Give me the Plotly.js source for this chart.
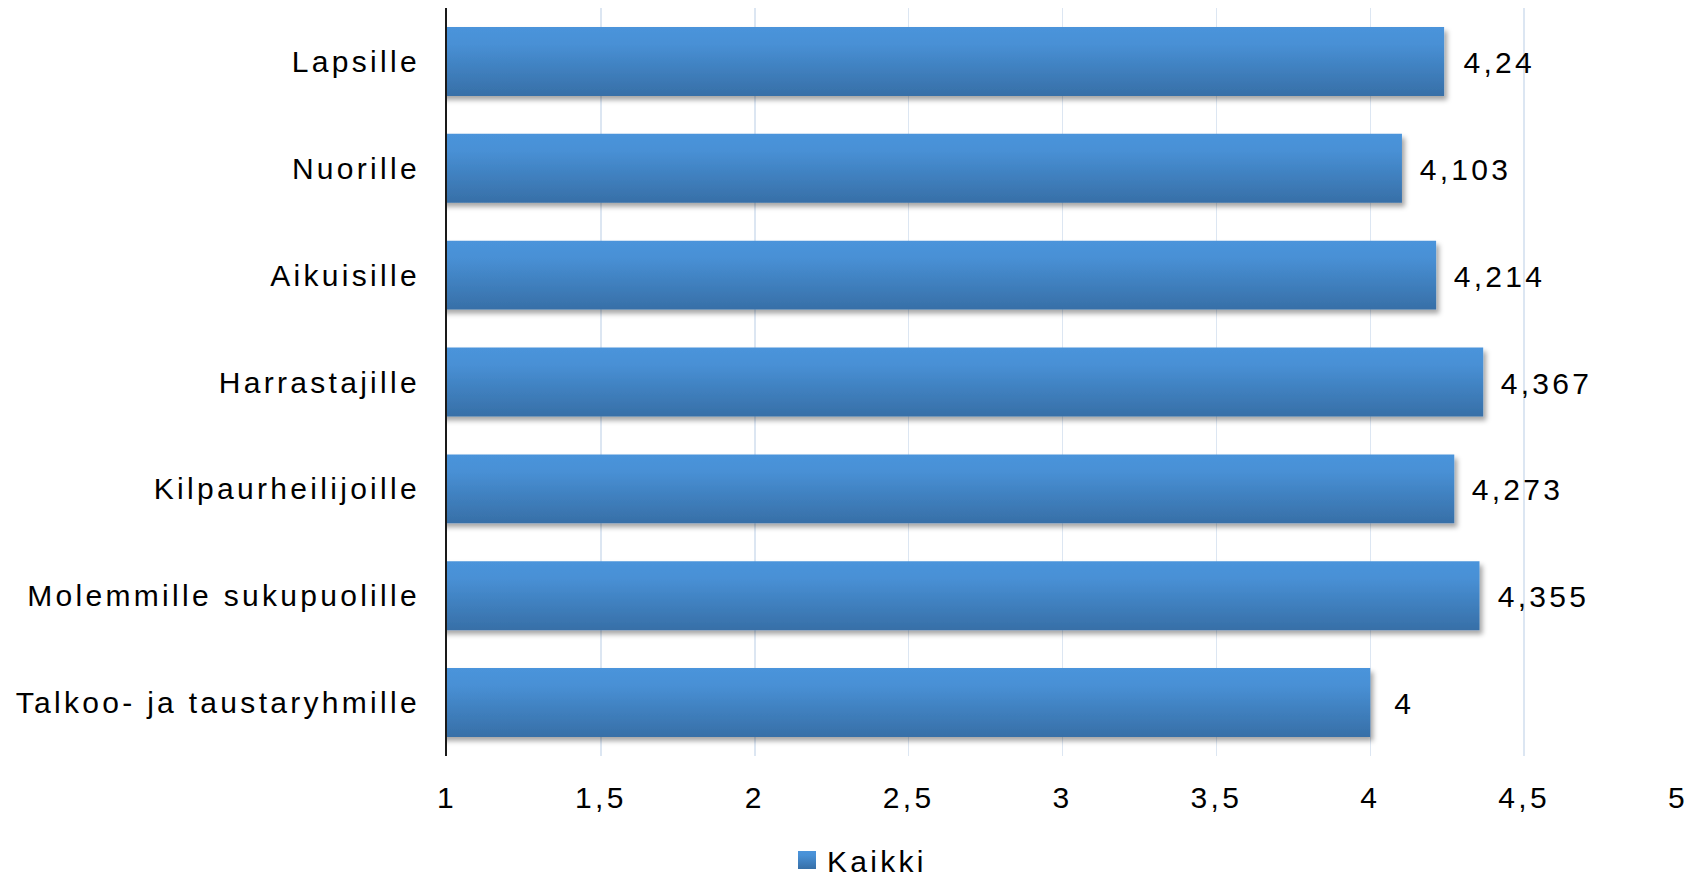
<!DOCTYPE html>
<html>
<head>
<meta charset="utf-8">
<script src="https://cdn.plot.ly/plotly-3.0.1.min.js"></script>
<style>
  html, body { margin: 0; padding: 0; background: #fff; }
  #chart { width: 1705px; height: 880px; }
  #chart text { letter-spacing: 3.3px; }
</style>
</head>
<body>
<svg width="0" height="0" style="position:absolute">
  <defs>
    <linearGradient id="barGrad" x1="0" y1="0" x2="0" y2="1">
      <stop offset="0%" stop-color="#4b94db"/>
      <stop offset="25%" stop-color="#4890d5"/>
      <stop offset="100%" stop-color="#376fa7"/>
    </linearGradient>
    <filter id="barShadow" x="-5%" y="-20%" width="115%" height="160%">
      <feDropShadow dx="3" dy="4" stdDeviation="2.5" flood-color="#000" flood-opacity="0.35"/>
    </filter>
  </defs>
</svg>
<div id="chart"></div>
<script>
const categories = ["Lapsille", "Nuorille", "Aikuisille", "Harrastajille", "Kilpaurheilijoille", "Molemmille sukupuolille", "Talkoo- ja taustaryhmille"];
const kaikki = [4.24, 4.103, 4.214, 4.367, 4.273, 4.355, 4];
const xTicks = [1, 1.5, 2, 2.5, 3, 3.5, 4, 4.5, 5];
const seriesName = "Kaikki";

const fmt = v => String(v).replace('.', ',');

const trace = {
  type: 'bar',
  orientation: 'h',
  name: seriesName,
  x: kaikki,
  y: categories,
  marker: { color: '#4383c6', line: { width: 0 } },
  hoverinfo: 'none',
  showlegend: true
};

const annotations = categories.map((c, i) => ({
  x: kaikki[i],
  y: c,
  xref: 'x',
  yref: 'y',
  text: fmt(kaikki[i]),
  showarrow: false,
  xanchor: 'left',
  yanchor: 'middle',
  xshift: 24,
  yshift: -1,
  font: { family: 'Liberation Sans, Arial, sans-serif', size: 30, color: '#000' }
}));

const layout = {
  width: 1705,
  height: 880,
  margin: { l: 446.5, r: 27, t: 8, b: 124, pad: 0, autoexpand: false },
  paper_bgcolor: '#fff',
  plot_bgcolor: '#fff',
  font: { family: 'Liberation Sans, Arial, sans-serif', size: 30, color: '#000' },
  separators: ', ',
  bargap: 0.355,
  showlegend: true,
  legend: {
    orientation: 'h',
    xref: 'container',
    yref: 'container',
    x: 787 / 1705,
    xanchor: 'left',
    y: (880 - 834) / 880,
    yanchor: 'top',
    entrywidth: 160,
    font: { size: 30, color: '#000' },
    bgcolor: 'rgba(0,0,0,0)'
  },
  xaxis: {
    range: [1, 5],
    tickvals: xTicks,
    ticktext: xTicks.map(fmt),
    showgrid: true,
    gridcolor: '#dce6f2',
    gridwidth: 1.5,
    zeroline: false,
    showline: false,
    ticks: '',
    ticklabelstandoff: 21,
    fixedrange: true
  },
  yaxis: {
    type: 'category',
    autorange: 'reversed',
    showgrid: false,
    zeroline: false,
    showline: true,
    linecolor: '#1a1a1a',
    linewidth: 2,
    ticks: '',
    ticklabelstandoff: 19,
    fixedrange: true
  },
  annotations: annotations
};

Plotly.newPlot('chart', [trace], layout, { displayModeBar: false, staticPlot: true }).then(() => {
  document.querySelectorAll('#chart .barlayer .point path').forEach(p => {
    p.style.fill = 'url(#barGrad)';
    p.setAttribute('filter', 'url(#barShadow)');
  });
  document.querySelectorAll('#chart .legendpoints path').forEach(p => {
    p.style.fill = 'url(#barGrad)';
    const t = p.getAttribute('transform') || '';
    p.setAttribute('transform', t + ' scale(1.5)');
  });
});
</script>
</body>
</html>
